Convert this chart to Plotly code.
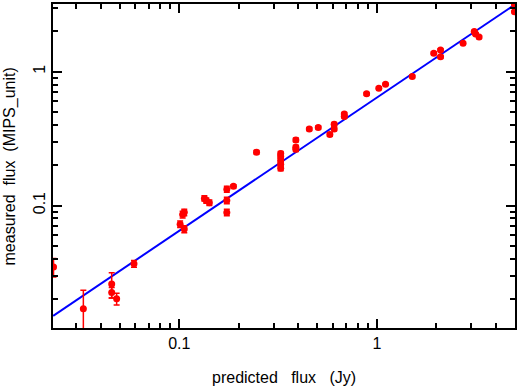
import plotly.graph_objects as go
import math

# predicted flux (Jy)
pred_flux = [0.0231, 0.0327, 0.0455, 0.0455, 0.0482, 0.0590,
             0.101, 0.104, 0.106, 0.106,
             0.134, 0.137, 0.142,
             0.174, 0.174, 0.174, 0.188,
             0.246,
             0.326, 0.326, 0.326, 0.326, 0.326,
             0.389, 0.389, 0.389,
             0.455, 0.505, 0.578, 0.608, 0.608, 0.684, 0.684,
             0.887, 1.023, 1.106, 1.51,
             1.94, 2.10, 2.10, 2.73, 3.11, 3.16, 3.29, 4.97, 4.97]
# measured flux (MIPS_unit)
meas_flux = [0.0347, 0.0169, 0.0259, 0.0224, 0.0201, 0.0367,
             0.0725, 0.0855, 0.0889, 0.0667,
             0.113, 0.109, 0.105,
             0.1325, 0.109, 0.0887, 0.139,
             0.250,
             0.245, 0.232, 0.218, 0.203, 0.190,
             0.309, 0.272, 0.263,
             0.373, 0.382, 0.339, 0.405, 0.373, 0.483, 0.462,
             0.682, 0.752, 0.805, 0.918,
             1.37, 1.45, 1.29, 1.63, 1.99, 1.91, 1.81, 3.18, 2.80]
meas_err = [0.0055, 0.0064, 0.0055, 0.002, 0.002, 0.0022,
            0.004, 0.005, 0.005, 0.004,
            0.005, 0.005, 0.005,
            0.007, 0.006, 0.005, 0.004,
            0.008,
            0.008, 0.008, 0.008, 0.008, 0.008,
            0.01, 0.01, 0.01,
            0.01, 0.01, 0.01, 0.012, 0.012, 0.012, 0.012,
            0.015, 0.015, 0.015, 0.02,
            0.03, 0.03, 0.03, 0.03, 0.04, 0.04, 0.04, 0.05, 0.05]

# reference line
line_x = [0.023, 4.98]
line_y = [0.0150, 3.16]

x_major = [0.1, 1]
x_major_text = ["0.1", "1"]
x_minor = [0.03, 0.04, 0.05, 0.06, 0.07, 0.08, 0.09,
           0.2, 0.3, 0.4, 0.5, 0.6, 0.7, 0.8, 0.9, 2, 3, 4]
y_major = [0.1, 1]
y_major_text = ["0.1", "1"]
y_minor = [0.02, 0.03, 0.04, 0.05, 0.06, 0.07, 0.08, 0.09,
           0.2, 0.3, 0.4, 0.5, 0.6, 0.7, 0.8, 0.9, 2, 3]

FONT = "Liberation Sans, Arial, sans-serif"

fig = go.Figure()
fig.add_trace(go.Scatter(
    x=line_x, y=line_y, mode="lines",
    line=dict(color="#0000ff", width=2), showlegend=False))
fig.add_trace(go.Scatter(
    x=pred_flux, y=meas_flux, mode="markers",
    marker=dict(color="#ff0000", size=7),
    error_y=dict(type="data", array=meas_err, color="#ff0000",
                 thickness=1.5, width=3),
    showlegend=False))

axis_common = dict(
    type="log", showgrid=False, zeroline=False, automargin=False,
    showline=True, linecolor="black", linewidth=2, mirror="allticks",
    ticks="inside", ticklen=9, tickwidth=1.5, tickcolor="black",
    tickfont=dict(family=FONT, size=16, color="black"),
)

fig.update_xaxes(
    **axis_common,
    range=[math.log10(0.02296), math.log10(5.0)],
    tickvals=x_major, ticktext=x_major_text,
    minor=dict(tickvals=x_minor, ticks="inside", ticklen=5,
               tickwidth=1.5, tickcolor="black"),
)
fig.update_yaxes(
    **axis_common,
    range=[-1.915, 0.505],
    tickvals=y_major, ticktext=y_major_text, tickangle=-90,
    minor=dict(tickvals=y_minor, ticks="inside", ticklen=5,
               tickwidth=1.5, tickcolor="black"),
)

fig.update_layout(
    width=518, height=390,
    margin=dict(l=53, r=3, t=4, b=62, autoexpand=False),
    paper_bgcolor="white", plot_bgcolor="white",
    font=dict(family=FONT, color="black"),
    annotations=[
        dict(text="predicted\u00a0\u00a0\u00a0flux\u00a0\u00a0\u00a0(Jy)",
             xref="paper", yref="paper", x=0.5, y=-0.12,
             xanchor="center", yanchor="top", showarrow=False,
             font=dict(family=FONT, size=16, color="black")),
        dict(text="measured\u00a0\u00a0flux\u00a0\u00a0(MIPS_unit)",
             xref="paper", yref="paper", x=-0.092, y=0.5,
             xanchor="center", yanchor="middle", textangle=-90,
             showarrow=False,
             font=dict(family=FONT, size=16, color="black")),
    ],
)

fig.write_html(
    "out.html",
    config={"displayModeBar": False},
    post_script="document.body.style.margin='0';document.body.style.overflow='hidden';",
)
